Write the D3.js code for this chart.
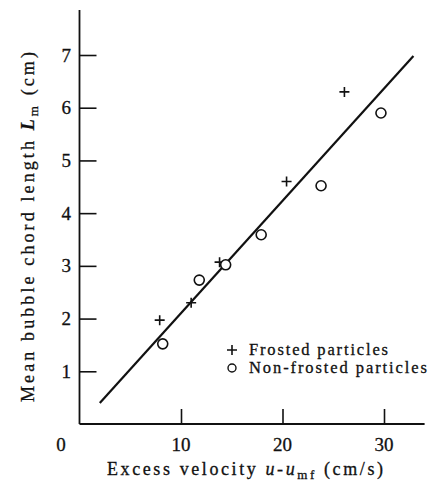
<!DOCTYPE html>
<html><head><meta charset="utf-8">
<script src="https://cdn.jsdelivr.net/npm/d3@7"></script>
<style>body{margin:0;background:#fff}svg{display:block}</style>
</head><body>
<svg id="c" width="428" height="494"></svg>
<script>
const frostedX = [7.9, 11.0, 13.8, 20.4, 26.1];
const frostedY = [1.97, 2.30, 3.07, 4.60, 6.30];
const nonFrostedX = [8.2, 11.8, 14.4, 17.9, 23.8, 29.7];
const nonFrostedY = [1.52, 2.73, 3.02, 3.59, 4.52, 5.90];
const fitX = [2.0, 32.9];
const fitY = [0.40, 6.98];
const xTicks = [10, 20, 30];
const yTicks = [1, 2, 3, 4, 5, 6, 7];
const legendLabels = ["Frosted particles", "Non-frosted particles"];

const FONT = "Liberation Serif";
const svg = d3.select("#c");
const x = d3.scaleLinear().domain([0, 34]).range([79.5, 424.6]);
const y = d3.scaleLinear().domain([0, 7]).range([424, 55]);

svg.append("line").attr("x1", x(0)).attr("x2", x(34)).attr("y1", y(0)).attr("y2", y(0)).attr("stroke", "#111").attr("stroke-width", 1.8);
svg.append("line").attr("x1", x(0)).attr("x2", x(0)).attr("y1", y(0)).attr("y2", 10).attr("stroke", "#111").attr("stroke-width", 1.8);

const xa = svg.append("g").attr("transform", `translate(0,${y(0)})`)
  .call(d3.axisTop(x).tickValues(xTicks).tickSize(15).tickFormat(""));
xa.select(".domain").remove();
xa.selectAll("line").attr("stroke", "#111").attr("stroke-width", 1.6);

const ya = svg.append("g").attr("transform", `translate(${x(0)},0)`)
  .call(d3.axisRight(y).tickValues(yTicks).tickSize(17).tickFormat(""));
ya.select(".domain").remove();
ya.selectAll("line").attr("stroke", "#111").attr("stroke-width", 1.6);

const T = svg.append("g").attr("font-family", FONT).attr("fill", "#111")
  .attr("stroke", "#111").attr("stroke-width", 0.3);

T.selectAll(".xl").data([0].concat(xTicks)).join("text")
  .attr("x", d => d === 0 ? 61 : x(d)).attr("y", 451)
  .attr("text-anchor", "middle").attr("font-size", 19).text(d => d);
T.selectAll(".yl").data(yTicks).join("text")
  .attr("x", 71).attr("y", d => y(d) + 6.5)
  .attr("text-anchor", "end").attr("font-size", 19).text(d => d);

svg.append("path").datum(fitX.map((v, i) => [v, fitY[i]]))
  .attr("d", d3.line().x(d => x(d[0])).y(d => y(d[1])))
  .attr("stroke", "#111").attr("stroke-width", 2.2).attr("fill", "none");

function plus(g, cx, cy, s) {
  g.append("path").attr("d", `M${cx - s},${cy}H${cx + s}M${cx},${cy - s}V${cy + s}`)
    .attr("stroke", "#111").attr("stroke-width", 1.6).attr("fill", "none");
}
frostedX.forEach((v, i) => plus(svg, x(v), y(frostedY[i]), 5));
svg.selectAll(".nf").data(nonFrostedX).join("circle")
  .attr("cx", d => x(d)).attr("cy", (d, i) => y(nonFrostedY[i])).attr("r", 5)
  .attr("fill", "#fff").attr("stroke", "#111").attr("stroke-width", 1.6);

plus(svg, 232, 350, 5);
svg.append("circle").attr("cx", 232).attr("cy", 368).attr("r", 4).attr("fill", "none").attr("stroke", "#111").attr("stroke-width", 1.4);
const legLen = [139, 178];
legendLabels.forEach((t, i) => T.append("text").attr("x", 249).attr("y", 355 + i * 18)
  .attr("font-size", 16.5).attr("textLength", legLen[i]).attr("lengthAdjust", "spacing").text(t));

const xt = T.append("text").attr("x", 107).attr("y", 475).attr("font-size", 18)
  .attr("textLength", 276).attr("lengthAdjust", "spacing");
xt.append("tspan").text("Excess velocity ");
xt.append("tspan").attr("font-style", "italic").text("u");
xt.append("tspan").text("-");
xt.append("tspan").attr("font-style", "italic").text("u");
xt.append("tspan").attr("font-size", 13).attr("dy", 4).text("mf");
xt.append("tspan").attr("dy", -4).text(" (cm/s)");

const yt = T.append("text").attr("transform", "translate(34,402) rotate(-90)").attr("font-size", 18)
  .attr("textLength", 350).attr("lengthAdjust", "spacing");
yt.append("tspan").text("Mean bubble chord length ");
yt.append("tspan").attr("font-style", "italic").attr("font-weight", "bold").text("L");
yt.append("tspan").attr("font-size", 13).attr("dy", 4).text("m");
yt.append("tspan").attr("dy", -4).text(" (cm)");
</script>
</body></html>
